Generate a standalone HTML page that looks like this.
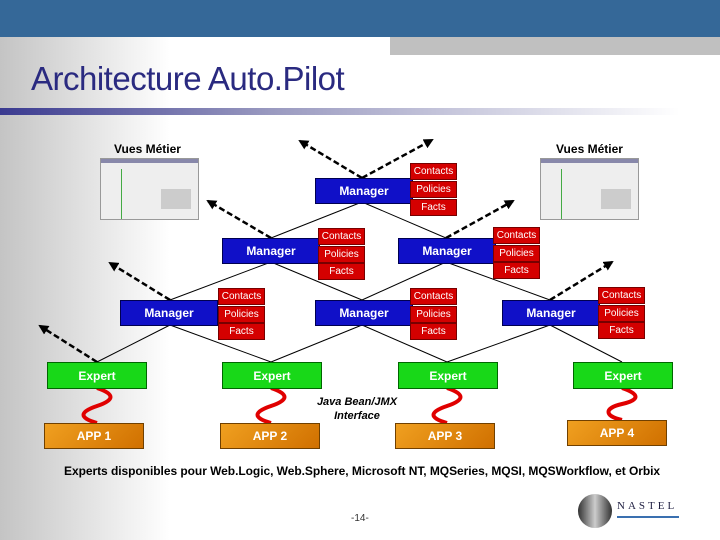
<!DOCTYPE html>
<html><head><meta charset="utf-8"><style>
body{margin:0;width:720px;height:540px;overflow:hidden;position:relative;font-family:"Liberation Sans",sans-serif;background:#fff}
.bg{position:absolute;left:0;top:37px;width:170px;height:503px;background:linear-gradient(to right,#c4c4c4,#fff)}
.hdr{position:absolute;left:0;top:0;width:720px;height:37px;background:#356898}
.gbar{position:absolute;left:390px;top:37px;width:330px;height:18px;background:#c0c0c0}
.title{position:absolute;left:31px;top:60px;font-size:33px;color:#2a2a80;letter-spacing:-0.5px}
.ul{position:absolute;left:0;top:108px;width:680px;height:7px;background:linear-gradient(to right,#3a3a90,#9a9ac0 40%,rgba(255,255,255,0))}
.b{position:absolute;display:flex;align-items:center;justify-content:center;font-weight:bold;font-size:12px;color:#fff}
.m{background:#1010c8;border:1px solid #000050;width:96px;height:24px}
.r{background:#d40000;border:1px solid #700;width:45px;height:15px;font-weight:normal;font-size:10px}
.e{background:#18d818;border:1px solid #060;width:98px;height:25px}
.a{background:linear-gradient(135deg,#f0a020,#d07000);border:1px solid #704000;width:98px;height:24px}
.t{position:absolute;font-weight:bold;font-size:12px;color:#000}
.shot{position:absolute;width:97px;height:60px;background:#eee;border:1px solid #999}
</style></head><body>
<div class="bg"></div><div class="hdr"></div><div class="gbar"></div>
<div class="title">Architecture Auto.Pilot</div><div class="ul"></div>
<div class="t" style="left:114px;top:142px">Vues Métier</div>
<div class="t" style="left:556px;top:142px">Vues Métier</div>
<div class="shot" style="left:100px;top:158px"><div style="position:absolute;left:0;top:0;width:97px;height:4px;background:#88a"></div><div style="position:absolute;left:20px;top:10px;width:1px;height:50px;background:#4a4"></div><div style="position:absolute;left:60px;top:30px;width:30px;height:20px;background:#ccc"></div></div>
<div class="shot" style="left:540px;top:158px"><div style="position:absolute;left:0;top:0;width:97px;height:4px;background:#88a"></div><div style="position:absolute;left:20px;top:10px;width:1px;height:50px;background:#4a4"></div><div style="position:absolute;left:60px;top:30px;width:30px;height:20px;background:#ccc"></div></div>
<svg width="720" height="540" style="position:absolute;left:0;top:0">
<defs><marker id="ah" markerUnits="userSpaceOnUse" markerWidth="10" markerHeight="10" refX="8" refY="5" orient="auto"><path d="M0,0 L10,5 L0,10z" fill="#000"/></marker></defs>
<g stroke="#000" stroke-width="1" fill="none">
<path d="M362,202L271,238M362,202L446,238M271,262L170,300M271,262L362,300M446,262L362,300M446,262L550,300M170,325L97,362M170,325L271,362M362,325L271,362M362,325L447,362M550,325L447,362M550,325L622,362"/>
</g>
<g stroke="#000" stroke-width="2.5" stroke-dasharray="6,3" fill="none" marker-end="url(#ah)">
<path d="M362,178L300,141"/><path d="M362,178L432,140"/><path d="M271,238L208,201"/><path d="M446,238L513,201"/><path d="M170,300L110,263"/><path d="M550,300L612,262"/><path d="M97,362L40,326"/>
</g>
<g stroke="#e00000" stroke-width="4" fill="none">
<path d="M97,388c18,6 18,12 0,18s-18,12 0,17"/>
<path d="M271,388c18,6 18,12 0,18s-18,12 0,17"/>
<path d="M447,388c18,6 18,12 0,18s-18,12 0,17"/>
<path d="M622,388c18,6 18,12 0,16s-18,12 0,16"/>
</g>
</svg>
<div class="b m" style="left:315px;top:178px">Manager</div>
<div class="b r" style="left:410px;top:163px">Contacts</div><div class="b r" style="left:410px;top:181px">Policies</div><div class="b r" style="left:410px;top:199px">Facts</div>
<div class="b m" style="left:222px;top:238px">Manager</div>
<div class="b r" style="left:318px;top:228px">Contacts</div><div class="b r" style="left:318px;top:246px">Policies</div><div class="b r" style="left:318px;top:263px">Facts</div>
<div class="b m" style="left:398px;top:238px">Manager</div>
<div class="b r" style="left:493px;top:227px">Contacts</div><div class="b r" style="left:493px;top:245px">Policies</div><div class="b r" style="left:493px;top:262px">Facts</div>
<div class="b m" style="left:120px;top:300px">Manager</div>
<div class="b r" style="left:218px;top:288px">Contacts</div><div class="b r" style="left:218px;top:306px">Policies</div><div class="b r" style="left:218px;top:323px">Facts</div>
<div class="b m" style="left:315px;top:300px">Manager</div>
<div class="b r" style="left:410px;top:288px">Contacts</div><div class="b r" style="left:410px;top:306px">Policies</div><div class="b r" style="left:410px;top:323px">Facts</div>
<div class="b m" style="left:502px;top:300px">Manager</div>
<div class="b r" style="left:598px;top:287px">Contacts</div><div class="b r" style="left:598px;top:305px">Policies</div><div class="b r" style="left:598px;top:322px">Facts</div>
<div class="b e" style="left:47px;top:362px">Expert</div>
<div class="b e" style="left:222px;top:362px">Expert</div>
<div class="b e" style="left:398px;top:362px">Expert</div>
<div class="b e" style="left:573px;top:362px">Expert</div>
<div class="b a" style="left:44px;top:423px">APP 1</div>
<div class="b a" style="left:220px;top:423px">APP 2</div>
<div class="b a" style="left:395px;top:423px">APP 3</div>
<div class="b a" style="left:567px;top:420px">APP 4</div>
<div class="t" style="left:312px;top:395px;font-style:italic;font-size:11px;text-align:center;width:90px;line-height:14px">Java Bean/JMX<br>Interface</div>
<div class="t" style="left:64px;top:464px;font-size:12px;letter-spacing:-0.05px">Experts disponibles pour Web.Logic, Web.Sphere, Microsoft NT, MQSeries, MQSI, MQSWorkflow, et Orbix</div>
<div style="position:absolute;left:351px;top:513px;font-size:10px;color:#333">-14-</div>
<div style="position:absolute;left:578px;top:494px;width:34px;height:34px;border-radius:50%;background:linear-gradient(to right,#333,#ccc,#333)"></div>
<div style="position:absolute;left:617px;top:500px;font-family:'Liberation Serif',serif;font-size:11px;letter-spacing:3px;color:#224">NASTEL</div>
<div style="position:absolute;left:617px;top:516px;width:62px;height:2px;background:#3a70b0"></div>
</body></html>
